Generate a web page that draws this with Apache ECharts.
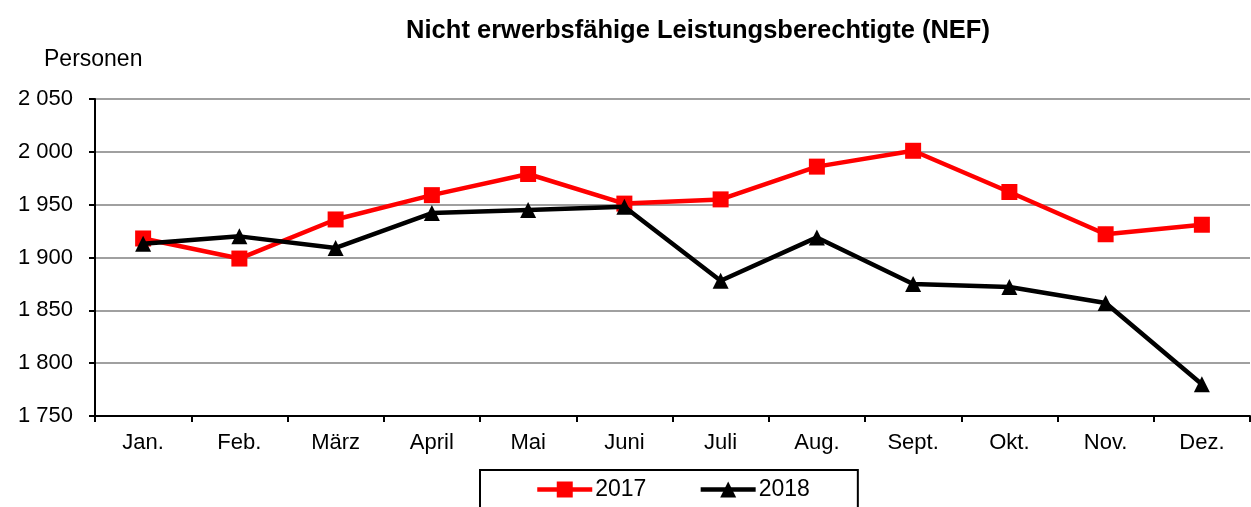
<!DOCTYPE html>
<html>
<head>
<meta charset="utf-8">
<script src="https://cdn.jsdelivr.net/npm/echarts@6/dist/echarts.min.js"></script>
<style>
  html, body { margin: 0; padding: 0; background: #fff; }
  #container { width: 1251px; height: 507px; }
</style>
</head>
<body>
<div id="container"></div>
<script>
var dom = document.getElementById("container");
var myChart = echarts.init(dom);

var months = ['Jan.', 'Feb.', 'März', 'April', 'Mai', 'Juni', 'Juli', 'Aug.', 'Sept.', 'Okt.', 'Nov.', 'Dez.'];
var data2017 = [1918, 1899, 1936, 1959, 1979, 1951, 1955, 1986, 2001, 1962, 1922, 1931];
var data2018 = [1913, 1920, 1909, 1942, 1945, 1948, 1878, 1919, 1875, 1872, 1857, 1780];

var fontFam = '"Liberation Sans", Arial, sans-serif';

function fmt(v) {
    // thousands separated by a space, e.g. 2 050
    return String(v).replace(/\B(?=(\d{3})+(?!\d))/g, ' ');
}

var option = {
    animation: false,
    textStyle: { fontFamily: fontFam },
    title: {
        text: 'Nicht erwerbsfähige Leistungsberechtigte (NEF)',
        left: 693,
        textAlign: 'center',
        top: 13,
        textStyle: { fontSize: 25.5, fontWeight: 'bold', color: '#000', fontFamily: fontFam }
    },
    grid: {
        left: 95,
        right: 1,
        top: 99,
        bottom: 91
    },
    legend: {
        data: [
            { name: '2017', lineStyle: { width: 4.5 } },
            { name: '2018', lineStyle: { width: 4.5 } }
        ],
        left: 480,
        top: 470,
        itemWidth: 55,
        itemHeight: 20,
        itemGap: 52,
        padding: [8, 48, 40, 55],
        borderColor: '#000',
        borderWidth: 2,
        textStyle: { fontSize: 23, color: '#000', fontFamily: fontFam, padding: [0, 0, 0, -2] }
    },
    xAxis: {
        type: 'category',
        data: months,
        boundaryGap: true,
        axisLine: { lineStyle: { color: '#000', width: 2 } },
        axisTick: { show: true, alignWithLabel: false, length: 6, lineStyle: { color: '#000', width: 2 } },
        axisLabel: { fontSize: 22, color: '#000', margin: 16, fontFamily: fontFam, interval: 0 }
    },
    yAxis: {
        type: 'value',
        name: 'Personen',
        nameLocation: 'end',
        nameGap: 28,
        nameTextStyle: { fontSize: 23, color: '#000', align: 'left', padding: [0, 0, 0, -51], fontFamily: fontFam },
        min: 1750,
        max: 2050,
        interval: 50,
        axisLine: { show: true, lineStyle: { color: '#000', width: 2 } },
        axisTick: { show: true, length: 6, lineStyle: { color: '#000', width: 2 } },
        splitLine: { show: true, lineStyle: { color: '#808080', width: 1.5 } },
        axisLabel: {
            fontSize: 22,
            color: '#000',
            margin: 22,
            fontFamily: fontFam,
            formatter: function (v) { return fmt(v); }
        }
    },
    series: [
        {
            name: '2017',
            type: 'line',
            data: data2017,
            symbol: 'rect',
            symbolSize: 16,
            lineStyle: { color: '#ff0000', width: 4.5 },
            itemStyle: { color: '#ff0000' },
            z: 2
        },
        {
            name: '2018',
            type: 'line',
            data: data2018,
            symbol: 'triangle',
            symbolSize: 16,
            lineStyle: { color: '#000', width: 4.5 },
            itemStyle: { color: '#000' },
            z: 3
        }
    ]
};

myChart.setOption(option);
</script>
</body>
</html>
